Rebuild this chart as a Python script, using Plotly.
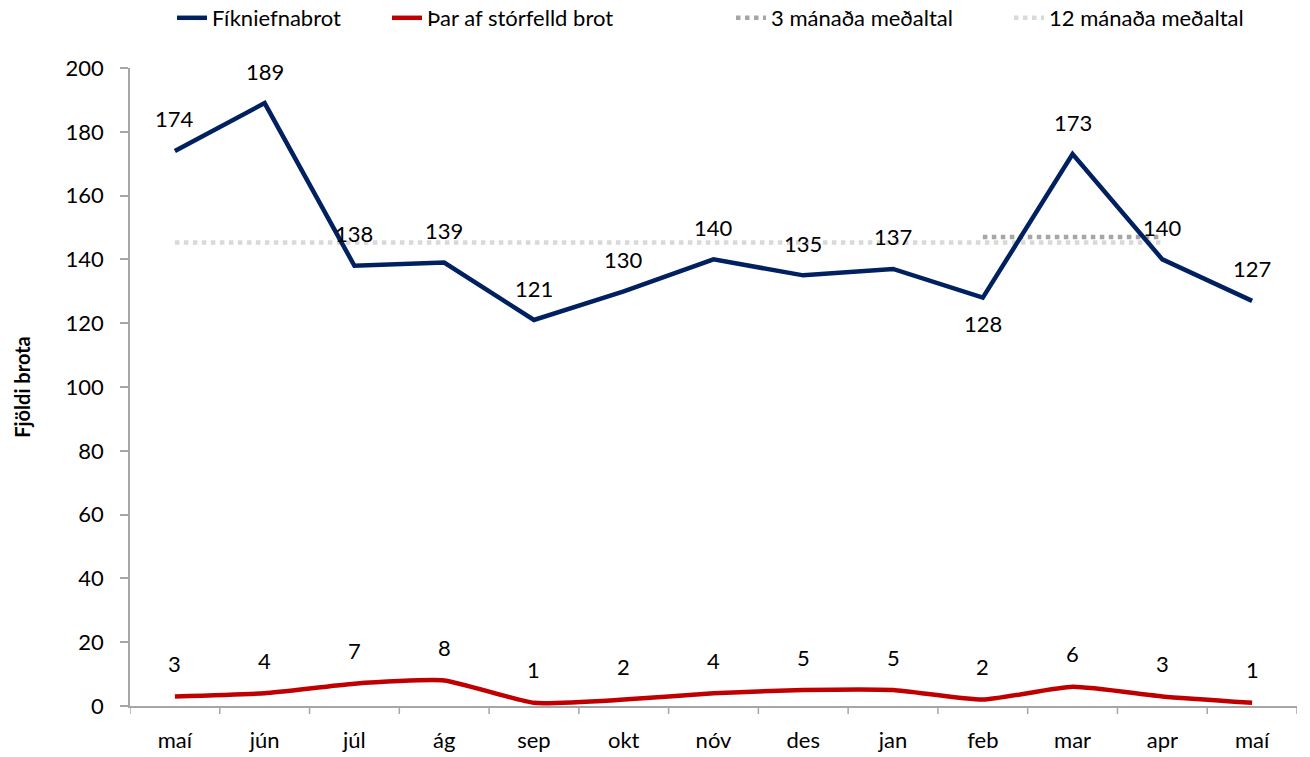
import plotly.graph_objects as go

months = ["maí", "jún", "júl", "ág", "sep", "okt", "nóv", "des", "jan", "feb", "mar", "apr", "maí"]
fikniefnabrot = [174, 189, 138, 139, 121, 130, 140, 135, 137, 128, 173, 140, 127]
storfelld = [3, 4, 7, 8, 1, 2, 4, 5, 5, 2, 6, 3, 1]

# Averages: 12 months over the first twelve points, 3 months over feb-apr
avg12 = [sum(fikniefnabrot[0:12]) / 12] * 12
avg3 = [sum(fikniefnabrot[9:12]) / 3] * 3

FONT = "Lato"
FS = 22
x = list(range(len(months)))

fig = go.Figure()
fig.add_trace(go.Scatter(
    x=x[0:12], y=avg12, mode="lines", name="12 mánaða meðaltal", legend="legend4",
    line=dict(color="#D9D9D9", width=4.5, dash="dot")))
fig.add_trace(go.Scatter(
    x=x[9:12], y=avg3, mode="lines", name="3 mánaða meðaltal", legend="legend3",
    line=dict(color="#A6A6A6", width=4.5, dash="dot")))
fig.add_trace(go.Scatter(
    x=x, y=fikniefnabrot, mode="lines", name="Fíkniefnabrot", legend="legend",
    line=dict(color="#002060", width=4.5)))
fig.add_trace(go.Scatter(
    x=x, y=storfelld, mode="lines", name="Þar af stórfelld brot", legend="legend2",
    line=dict(color="#C00000", width=4.5, shape="spline", smoothing=0.5)))

# Data labels
for i, v in enumerate(fikniefnabrot):
    below = (i == 9)
    fig.add_annotation(x=i, y=v, text=str(v), showarrow=False,
                       yshift=-26 if below else 32,
                       font=dict(size=FS, family=FONT, color="#000000"))
for i, v in enumerate(storfelld):
    fig.add_annotation(x=i, y=v, text=str(v), showarrow=False, yshift=33,
                       font=dict(size=FS, family=FONT, color="#000000"))

leg_common = dict(orientation="h", yref="container", y=1 - 18 / 757, yanchor="middle",
                  xref="container", xanchor="left", font=dict(size=FS, family=FONT),
                  bgcolor="rgba(0,0,0,0)", borderwidth=0)

fig.update_layout(
    width=1310, height=757,
    margin=dict(l=130, r=13, t=68, b=51, autoexpand=False),
    plot_bgcolor="white", paper_bgcolor="white",
    font=dict(family=FONT, size=FS, color="#000000"),
    showlegend=True,
    legend=dict(x=172 / 1310, **leg_common),
    legend2=dict(x=387 / 1310, **leg_common),
    legend3=dict(x=731 / 1310, **leg_common),
    legend4=dict(x=1009 / 1310, **leg_common),
    xaxis=dict(
        tickmode="array", tickvals=x, ticktext=months,
        range=[-0.5, 12.5], showgrid=False, zeroline=False,
        showline=True, linecolor="#A6A6A6", linewidth=1.5,
        ticks="", ticklabelstandoff=14,
        tickfont=dict(size=FS, family=FONT)),
    yaxis=dict(
        range=[0, 200], dtick=20, showgrid=False, zeroline=False,
        showline=True, linecolor="#A6A6A6", linewidth=1.5,
        ticks="outside", ticklen=8, tickcolor="#A6A6A6", tickwidth=1.5,
        ticklabelstandoff=12,
        tickfont=dict(size=FS, family=FONT),
        title=dict(text="<b>Fjöldi brota</b>", font=dict(size=20, family=FONT), standoff=30)),
)

# Tick marks between categories
for b in [i - 0.5 for i in range(len(months) + 1)]:
    fig.add_shape(type="line", xref="x", yref="paper", x0=b, x1=b, y0=0, y1=-8 / 638,
                  line=dict(color="#A6A6A6", width=1.5))

fig.write_html("out.html")
